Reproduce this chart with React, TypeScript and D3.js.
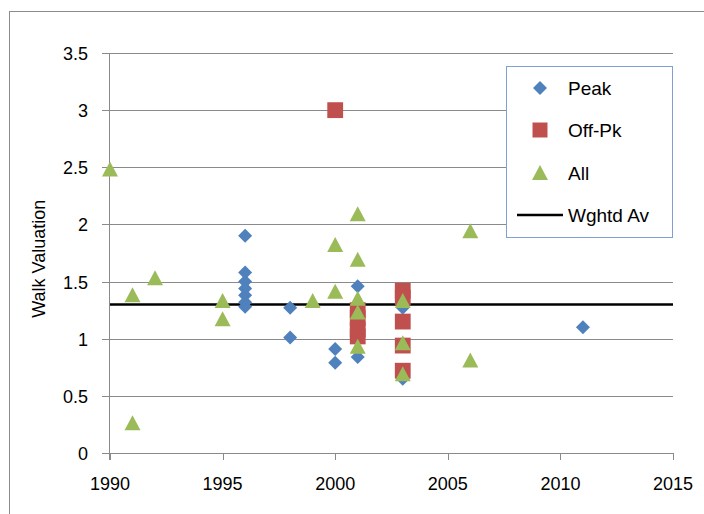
import React from "react";
import * as d3 from "d3";

const peakYears = [1996, 1996, 1996, 1996, 1996, 1996, 1996, 1998, 1998, 2000, 2000, 2001, 2001, 2003, 2003, 2011];
const peakValues = [1.9, 1.58, 1.5, 1.44, 1.38, 1.32, 1.28, 1.27, 1.01, 0.91, 0.79, 1.46, 0.84, 1.27, 0.65, 1.1];

const offPkYears = [2000, 2001, 2001, 2001, 2001, 2003, 2003, 2003, 2003, 2003];
const offPkValues = [3.0, 1.25, 1.18, 1.08, 1.02, 1.42, 1.36, 1.15, 0.94, 0.72];

const allYears = [1990, 1991, 1991, 1992, 1995, 1995, 1999, 2000, 2000, 2001, 2001, 2001, 2001, 2001, 2003, 2003, 2003, 2006, 2006];
const allValues = [2.48, 1.38, 0.26, 1.53, 1.33, 1.17, 1.33, 1.82, 1.41, 2.09, 1.69, 1.35, 1.23, 0.93, 1.33, 0.96, 0.69, 1.94, 0.81];

const weightedAvg = 1.3;

const xTicks = [1990, 1995, 2000, 2005, 2010, 2015];
const yTicks = [0, 0.5, 1, 1.5, 2, 2.5, 3, 3.5];

const seriesNames = ["Peak", "Off-Pk", "All", "Wghtd Av"];

const COLORS = { peak: "#4F81BD", off: "#C0504D", all: "#9BBB59" };
const FONT = "'Liberation Sans', Arial, sans-serif";

export default function App() {
  const x = d3.scaleLinear().domain([1990, 2015]).range([110, 673]);
  const y = d3.scaleLinear().domain([0, 3.5]).range([453, 53]);

  const diamond = d3.symbol().type(d3.symbolDiamond2).size(125)();
  const square = d3.symbol().type(d3.symbolSquare).size(250)();
  const tri = (cx: number, cy: number) => {
    const w = 8, h = 14;
    return `M${cx},${cy - h / 2 - 1}L${cx + w},${cy + h / 2}L${cx - w},${cy + h / 2}Z`;
  };

  const lineGen = d3.line<number>().x((d) => x(d)).y(() => y(weightedAvg));

  return (
    <div style={{ position: "absolute", left: 0, top: 0 }}>
      <svg width={704} height={514} style={{ display: "block", fontFamily: FONT }}>
        <rect x={0} y={0} width={704} height={514} fill="#fff" />
        <rect x={9.5} y={11.5} width={720} height={520} fill="none" stroke="#8c8c8c" strokeWidth={1} />
        {/* gridlines */}
        {yTicks.map((t) => (
          <line key={"g" + t} x1={102} x2={x(2015)} y1={Math.round(y(t)) + 0.5} y2={Math.round(y(t)) + 0.5}
            stroke="#8a8a8a" strokeWidth={1} />
        ))}
        {/* axes */}
        <line x1={109.5} x2={109.5} y1={53} y2={460} stroke="#8a8a8a" />
        {xTicks.map((t) => (
          <line key={"xt" + t} x1={Math.round(x(t)) + 0.5} x2={Math.round(x(t)) + 0.5} y1={453} y2={460} stroke="#8a8a8a" />
        ))}
        {yTicks.map((t) => (
          <text key={"yl" + t} x={88} y={y(t) + 7} textAnchor="end" fontSize={18} fill="#000">
            {String(t)}
          </text>
        ))}
        {xTicks.map((t) => (
          <text key={"xl" + t} x={x(t)} y={490} textAnchor="middle" fontSize={18} fill="#000">
            {t}
          </text>
        ))}
        <text transform={`translate(45,${y(1.7)}) rotate(-90)`} textAnchor="middle" fontSize={18} fill="#000">
          Walk Valuation
        </text>
        {/* weighted average */}
        <path d={lineGen([1990, 2015]) || ""} stroke="#000" strokeWidth={2.5} fill="none" />
        {/* series */}
        {peakValues.map((v, i) => (
          <path key={"p" + i} d={diamond} transform={`translate(${x(peakYears[i])},${y(v)})`} fill={COLORS.peak} />
        ))}
        {offPkValues.map((v, i) => (
          <path key={"o" + i} d={square} transform={`translate(${x(offPkYears[i])},${y(v)})`} fill={COLORS.off} />
        ))}
        {allValues.map((v, i) => (
          <path key={"a" + i} d={tri(x(allYears[i]), y(v))} fill={COLORS.all} />
        ))}
        {/* legend */}
        <rect x={506.5} y={66.5} width={166} height={171} fill="#fff" stroke="#7fa0d0" strokeWidth={1} />
        <path d={diamond} transform="translate(540,88)" fill={COLORS.peak} />
        <path d={d3.symbol().type(d3.symbolSquare).size(225)() || ""} transform="translate(540,130)" fill={COLORS.off} />
        <path d={tri(540, 173)} fill={COLORS.all} />
        <line x1={517} x2={563} y1={215} y2={215} stroke="#000" strokeWidth={2.5} />
        {seriesNames.map((n, i) => (
          <text key={n} x={568} y={[88, 130, 173, 215][i] + 7} fontSize={19} fill="#000">
            {n}
          </text>
        ))}
      </svg>
    </div>
  );
}
